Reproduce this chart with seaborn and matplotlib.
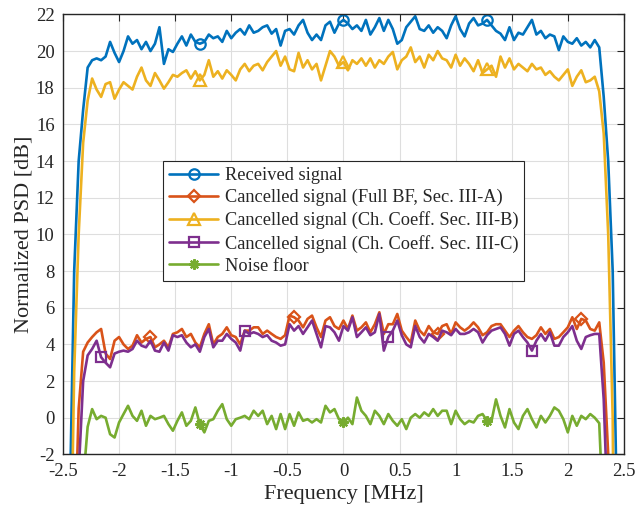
import numpy as np
import pandas as pd
import matplotlib
matplotlib.use("Agg")
import matplotlib.pyplot as plt
import seaborn as sns

# Frequency bins [MHz] (125 bins, 40 kHz spacing)
freq_mhz = np.round(np.linspace(-2.48, 2.48, 125), 2)

received = [
    -35, -5, 8, 14, 16.8, 19.1,
    19.5, 19.6, 19.5, 19.7, 20.5, 19.9, 19.4, 20.0, 20.8, 20.4, 20.6, 20.1, 20.5, 20.0,
    20.4, 21.3, 19.3, 20.1, 19.95, 20.4, 20.8, 20.3, 20.9, 20.5, 20.4, 20.5, 20.9, 20.7,
    20.8, 20.5, 21.1, 20.7, 21.0, 21.2, 20.9, 21.4, 21.0, 21.1, 21.3, 21.4, 20.95, 21.2,
    20.3, 21.1, 21.2, 20.9, 21.4, 21.7, 21.0, 20.6, 20.9, 20.6, 21.4, 21.6, 21.0, 21.5,
    21.7, 21.5, 21.2, 21.4, 21.1, 21.7, 20.9, 21.3, 21.8, 21.1, 21.7, 21.2, 20.4, 20.6,
    21.3, 21.6, 21.9, 21.2, 21.1, 21.4, 21.0, 21.3, 21.1, 20.7, 21.4, 21.9, 21.2, 20.8,
    21.5, 21.8, 21.4, 21.5, 21.7, 21.4, 21.1, 20.95, 20.6, 21.3, 20.6, 21.0, 20.9, 21.3,
    21.7, 20.9, 21.1, 20.7, 20.9, 20.8, 20.05, 20.8, 20.5, 20.4, 20.7, 20.3, 20.5, 20.2,
    20.6, 20.2, 17.5, 14, 8, -6, -35,
]

cancel_full_bf = [
    -40, -30, -8, 0.5, 3.6, 4.1,
    4.4, 4.66, 4.84, 3.5, 3.2, 4.2, 4.4, 4.0, 3.75, 3.93, 4.5, 4.1, 4.3, 4.4,
    3.84, 4.0, 4.2, 3.84, 4.57, 4.66, 4.84, 4.4, 4.57, 4.1, 3.84, 4.57, 5.1, 4.0,
    4.4, 4.57, 4.93, 4.5, 4.4, 4.0, 4.75, 4.75, 4.93, 4.93, 4.57, 4.75, 4.57, 4.4,
    4.3, 4.5, 5.57, 5.48, 5.3, 4.93, 5.39, 5.57, 4.93, 4.4, 5.3, 5.48, 5.0, 4.84,
    5.3, 4.84, 5.57, 4.75, 4.93, 5.2, 4.66, 5.1, 5.75, 4.57, 5.1, 5.1, 5.66, 4.75,
    4.4, 4.1, 5.3, 4.75, 4.5, 5.0, 4.66, 4.57, 5.0, 5.1, 4.57, 5.2, 4.93, 4.75,
    4.93, 5.2, 4.93, 4.5, 4.66, 5.0, 5.1, 5.1, 4.75, 4.4, 4.75, 5.0, 4.66, 4.4,
    4.3, 4.5, 4.93, 4.57, 4.84, 4.3, 4.4, 4.66, 4.93, 5.48, 4.84, 5.39, 5.3, 4.84,
    4.75, 5.2, 3.0, -2.0, -30, -40, -40,
]

cancel_coeff_b = [
    -40, -12, 2.5, 10, 15, 17.3,
    18.5, 17.9, 17.5, 18.2, 18.3, 17.4, 17.9, 18.3, 18.1, 17.9, 18.6, 19.1, 18.4, 18.1,
    18.8, 18.4, 17.95, 18.3, 18.7, 18.6, 18.8, 18.95, 18.5, 18.9, 18.4, 18.7, 19.5, 18.6,
    18.9, 18.5, 18.95, 18.7, 18.4, 19.0, 19.3, 18.9, 19.2, 19.3, 18.95, 19.4, 19.7, 20.0,
    19.2, 19.7, 19.0, 18.9, 19.9, 19.1, 19.5, 19.0, 19.3, 18.4, 19.2, 20.0, 19.7, 19.2,
    19.4, 18.95, 19.5, 19.3, 19.6, 19.2, 19.6, 19.1, 19.5, 19.3, 19.7, 19.95, 19.0, 19.5,
    19.7, 20.2, 19.4, 19.7, 19.1, 19.8, 19.5, 20.0, 19.6, 19.5, 19.1, 19.8, 19.2, 19.6,
    19.3, 18.9, 19.5, 18.8, 19.0, 19.2, 18.6, 19.7, 19.1, 19.6, 19.0, 19.3, 19.1, 18.9,
    19.3, 19.0, 19.1, 18.7, 18.9, 18.6, 18.4, 18.7, 19.0, 18.1, 18.6, 18.95, 18.3, 18.4,
    18.6, 17.8, 15.5, 10, 0, -30, -40,
]

cancel_coeff_c = [
    -40, -40, -25, -3, 2.0, 3.4,
    3.75, 4.2, 3.3, 3.0, 2.75, 3.5, 3.6, 3.66, 3.6, 3.75, 4.2, 3.93, 3.84, 4.2,
    3.66, 3.6, 4.1, 3.66, 4.5, 4.4, 4.5, 4.1, 3.84, 4.0, 3.6, 4.4, 4.84, 3.84,
    4.2, 4.2, 4.57, 4.3, 4.1, 3.66, 4.75, 4.57, 4.66, 4.57, 4.4, 4.5, 4.2, 4.1,
    3.93, 4.0, 5.1, 4.75, 5.0, 4.57, 4.93, 5.3, 4.57, 3.84, 5.0, 4.93, 4.66, 4.2,
    5.0, 4.75, 5.48, 4.4, 4.66, 4.93, 4.5, 4.66, 5.66, 3.66, 4.4, 4.75, 5.3, 4.5,
    4.0, 3.84, 5.0, 4.4, 4.1, 4.57, 4.4, 4.2, 4.75, 4.66, 4.5, 4.84, 4.57, 4.57,
    4.66, 4.84, 4.66, 4.1, 4.5, 4.75, 4.84, 4.93, 4.57, 3.93, 4.57, 4.75, 4.4, 4.1,
    3.66, 4.2, 4.57, 4.2, 4.66, 3.93, 3.93, 4.4, 4.66, 5.0, 4.2, 3.75, 4.4, 4.5,
    4.57, 4.57, 1.0, -6, -30, -40, -40,
]

noise_floor = [
    -40, -40, -40, -30, -3.5, -0.5,
    0.47, -0.08, 0.1, 0.0, -0.9, -1.08, -0.26, 0.2, 0.65, 0.1, -0.17, 0.38, -0.44, 0.1,
    -0.08, 0.0, 0.1, -0.35, -0.71, -0.17, 0.29, -0.44, -0.17, 0.56, -0.35, -0.8, -0.17, -0.08,
    0.38, 0.74, -0.08, -0.44, -0.08, 0.0, 0.1, -0.08, 0.38, 0.1, 0.38, -0.35, 0.1, -0.62,
    0.2, -0.62, 0.2, -0.44, 0.29, -0.17, -0.08, -0.26, -0.08, -0.26, 0.65, 0.29, 0.47, -0.08,
    -0.26, 0.0, -0.35, 1.1, 0.38, 0.1, -0.35, 0.38, 0.1, -0.35, 0.2, -0.17, -0.44, -0.08,
    -0.62, 0.0, 0.2, 0.0, 0.29, 0.1, 0.47, 0.1, 0.38, 0.38, -0.35, 0.38, -0.08, -0.35,
    -0.17, -0.26, 0.1, 0.2, -0.17, -0.17, 1.0, 0.1, -0.53, 0.47, -0.26, -0.62, 0.1, 0.47,
    -0.08, -0.53, 0.1, -0.26, 0.1, 0.56, 0.38, -0.08, -0.8, 0.1, -0.44, 0.1, -0.08, 0.2,
    0.0, -0.3, -6, -30, -40, -40, -40,
]

series_labels = [
    "Received signal",
    "Cancelled signal (Full BF, Sec. III-A)",
    "Cancelled signal (Ch. Coeff. Sec. III-B)",
    "Cancelled signal (Ch. Coeff. Sec. III-C)",
    "Noise floor",
]
x_ticks = [-2.5, -2, -1.5, -1, -0.5, 0, 0.5, 1, 1.5, 2, 2.5]
x_tick_labels = ["-2.5", "-2", "-1.5", "-1", "-0.5", "0", "0.5", "1", "1.5", "2", "2.5"]
y_ticks = list(range(-2, 23, 2))
y_tick_labels = [str(v) for v in y_ticks]

sns.set_theme(style="white")
plt.rcParams["font.family"] = ["Liberation Serif", "DejaVu Serif"]

colors = ["#0072BD", "#D95319", "#EDB120", "#7E2F8E", "#77AC30"]
markers = ["o", "D", "^", "s", (8, 2, 0)]
mark_idx = [[30, 62, 94], [19, 51, 83, 115], [30, 62, 94], [8, 40, 72, 104], [30, 62, 94]]
msize = [7.5, 6.5, 8, 7, 7.5]

fig = plt.figure(figsize=(6.36, 5.14), dpi=100)
ax = fig.add_axes([0.099, 0.116, 0.882, 0.856])

all_series = [received, cancel_full_bf, cancel_coeff_b, cancel_coeff_c, noise_floor]
handles = []
for vals, lab, col, mk, idx, ms in zip(all_series, series_labels, colors, markers, mark_idx, msize):
    df = pd.DataFrame({"f": freq_mhz, "psd": vals})
    sns.lineplot(data=df, x="f", y="psd", ax=ax, color=col, lw=1.9, sort=False,
                 estimator=None, marker=mk, markevery=idx, markersize=ms,
                 markerfacecolor="none", markeredgecolor=col, markeredgewidth=1.6,
                 label=lab, legend=False)
    handles.append(ax.lines[-1])

ax.set_xlim(-2.5, 2.5)
ax.set_ylim(-2, 22)
ax.set_xticks(x_ticks)
ax.set_xticklabels(x_tick_labels)
ax.set_yticks(y_ticks)
ax.set_yticklabels(y_tick_labels)
ax.grid(True, color="#dedede", lw=0.8)
ax.set_axisbelow(True)
for sp in ax.spines.values():
    sp.set_color("#262626")
    sp.set_linewidth(1.0)
ax.tick_params(direction="in", length=5, width=0.8, colors="#262626",
               labelsize=13.5, top=True, right=True, pad=6)
ax.set_xlabel("Frequency [MHz]", fontsize=16, color="#262626", labelpad=4)
ax.set_ylabel("Normalized PSD [dB]", fontsize=16, color="#262626", labelpad=2)

leg = ax.legend(handles=handles, labels=series_labels, loc="upper left",
                bbox_to_anchor=(0.178, 0.667), borderaxespad=0, fontsize=13.2,
                frameon=True, fancybox=False, framealpha=1, edgecolor="#262626",
                handlelength=2.7, handletextpad=0.35, labelspacing=0.28,
                borderpad=0.33, numpoints=1)
leg.get_frame().set_linewidth(0.8)

fig.savefig("out.png", dpi=100)
